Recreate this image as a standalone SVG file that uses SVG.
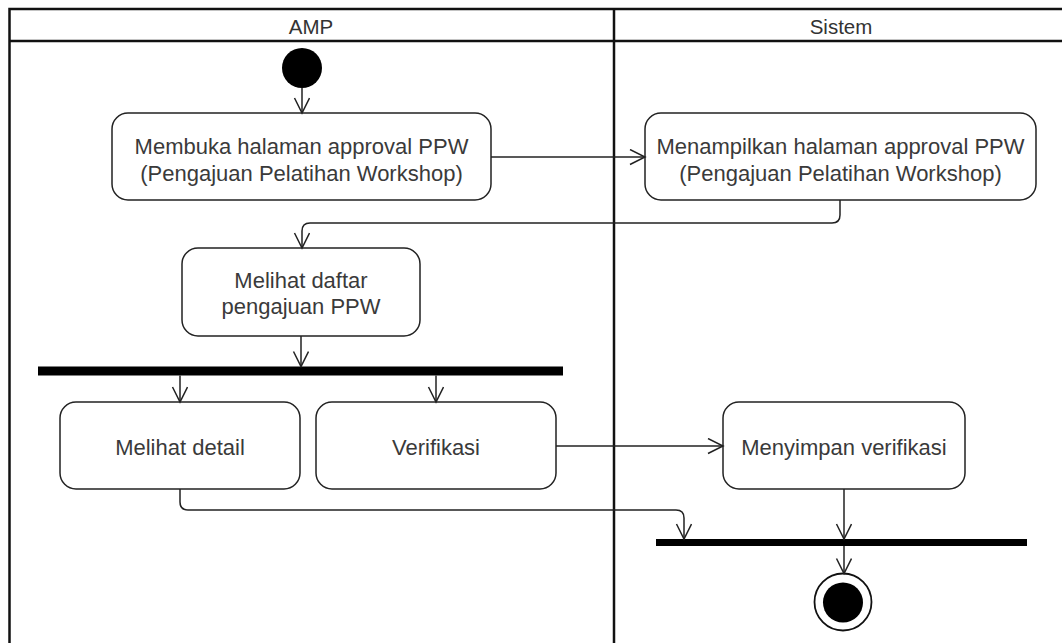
<svg xmlns="http://www.w3.org/2000/svg" width="1062" height="643" viewBox="0 0 1062 643">
<style>
.lane{fill:none;stroke:#111;stroke-width:2.5}
.node rect.act{fill:#fff;stroke:#222;stroke-width:1.5}
.lbl{font-family:"Liberation Sans",Arial,sans-serif;font-size:22px;fill:#3a3a3a;text-anchor:middle}
.hdr{font-family:"Liberation Sans",Arial,sans-serif;font-size:20.5px;fill:#333;text-anchor:middle}
.edge{fill:none;stroke:#222;stroke-width:1.5}
.bar{fill:#000}
</style>
<defs>
<marker id="open" markerUnits="userSpaceOnUse" markerWidth="20" markerHeight="20" refX="16" refY="8" orient="auto">
<path d="M1,0.5 L16,8 L1,15.5" fill="none" stroke="#222" stroke-width="1.5"/>
</marker>
</defs>
<rect width="1062" height="643" fill="#fff"/>
<g id="lanes">
<path class="lane" d="M9.5,660 L9.5,9 L1080,9 M9.5,41 L1080,41 M614,9 L614,660"/>
<text class="hdr" x="311" y="34">AMP</text>
<text class="hdr" x="841" y="34">Sistem</text>
</g>
<g id="start" class="node"><circle cx="302" cy="68" r="20" fill="#000"/></g>
<g id="membuka" class="node">
<rect class="act" x="112" y="113" width="379" height="87" rx="16"/>
<text class="lbl" x="301.5" y="154">Membuka halaman approval PPW</text>
<text class="lbl" x="301.5" y="181">(Pengajuan Pelatihan Workshop)</text>
</g>
<g id="menampilkan" class="node">
<rect class="act" x="645" y="113" width="391" height="87" rx="16"/>
<text class="lbl" x="840.5" y="154">Menampilkan halaman approval PPW</text>
<text class="lbl" x="840.5" y="181">(Pengajuan Pelatihan Workshop)</text>
</g>
<g id="melihat-daftar" class="node">
<rect class="act" x="182" y="248" width="238" height="88" rx="16"/>
<text class="lbl" x="301" y="288">Melihat daftar</text>
<text class="lbl" x="301" y="314">pengajuan PPW</text>
</g>
<g id="fork" class="node"><rect class="bar" x="38" y="366.5" width="525" height="9"/></g>
<g id="melihat-detail" class="node">
<rect class="act" x="60" y="402" width="240" height="87" rx="16"/>
<text class="lbl" x="180" y="455">Melihat detail</text>
</g>
<g id="verifikasi" class="node">
<rect class="act" x="316" y="402" width="240" height="87" rx="16"/>
<text class="lbl" x="436" y="455">Verifikasi</text>
</g>
<g id="menyimpan" class="node">
<rect class="act" x="723" y="402" width="242" height="87" rx="16"/>
<text class="lbl" x="844" y="455">Menyimpan verifikasi</text>
</g>
<g id="join" class="node"><rect class="bar" x="656" y="539" width="371" height="7"/></g>
<g id="end" class="node">
<circle cx="843" cy="602" r="28.5" fill="#fff" stroke="#111" stroke-width="1.8"/>
<circle cx="843" cy="602.5" r="20" fill="#000"/>
</g>
<g id="connectors">
<path class="edge" marker-end="url(#open)" d="M302,88 L302,113"/>
<path class="edge" marker-end="url(#open)" d="M491,157 L645,157"/>
<path class="edge" marker-end="url(#open)" d="M840,200 L840,215 Q840,223 832,223 L310,223 Q302,223 302,231 L302,248"/>
<path class="edge" marker-end="url(#open)" d="M301,336 L301,366.5"/>
<path class="edge" marker-end="url(#open)" d="M180,375.5 L180,402"/>
<path class="edge" marker-end="url(#open)" d="M436,375.5 L436,402"/>
<path class="edge" marker-end="url(#open)" d="M556,446 L723,446"/>
<path class="edge" marker-end="url(#open)" d="M180,489 L180,502 Q180,510 188,510 L676,510 Q684,510 684,518 L684,539"/>
<path class="edge" marker-end="url(#open)" d="M844,489 L844,539"/>
<path class="edge" marker-end="url(#open)" d="M844,546 L844,573.5"/>
</g>
</svg>
